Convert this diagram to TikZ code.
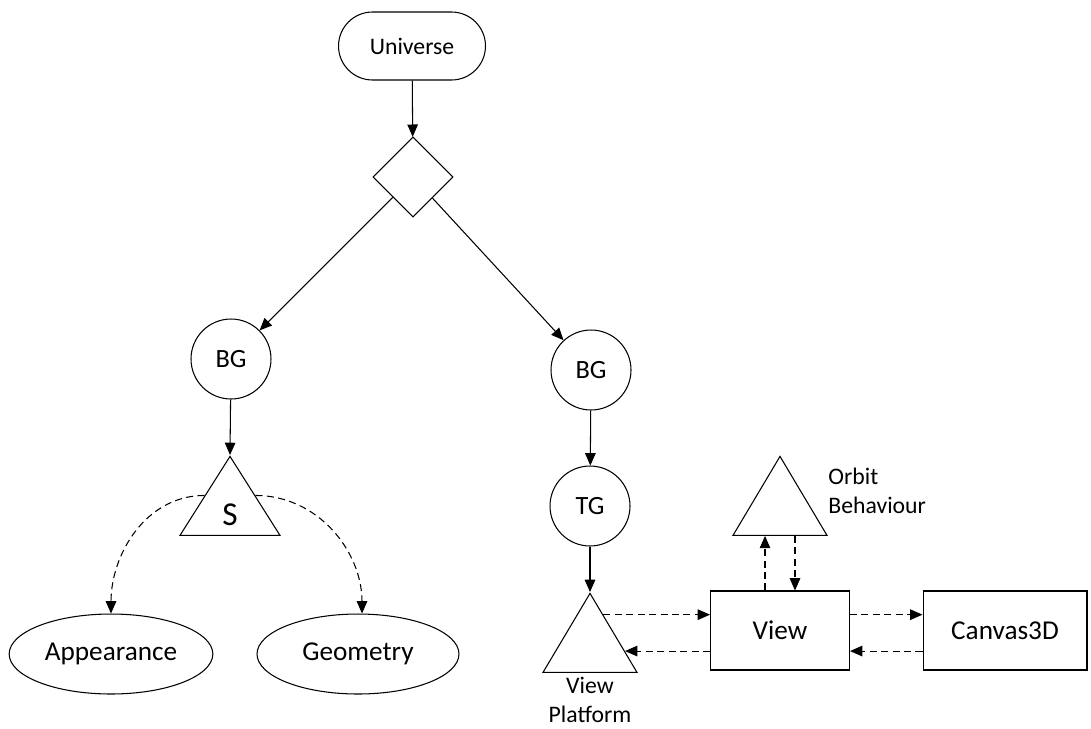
\documentclass[tikz,border=0pt]{standalone}
\usepackage{fontspec}
\setmainfont{Carlito}
\usepackage{tikz}
\usetikzlibrary{arrows.meta}
\usetikzlibrary{shapes.geometric}
\usetikzlibrary{calc}
\usetikzlibrary{positioning}
\tikzset{
  every node/.style = {font=\fontsize{13.5}{16.5}\selectfont},
  big/.style = {font=\fontsize{15.5}{18}\selectfont},
  term/.style = {draw, rectangle, rounded corners=0.68cm, minimum width=2.94cm, minimum height=1.36cm},
  group/.style = {draw, circle, minimum size=1.6cm, inner sep=0pt, font=\fontsize{15}{18}\selectfont},
  switch/.style = {draw, diamond, minimum width=1.6cm, minimum height=1.6cm, inner sep=0pt},
  leaf/.style = {draw, isosceles triangle, isosceles triangle stretches, shape border rotate=90, inner sep=0pt, minimum width=2.0cm, minimum height=1.58cm},
  comp/.style = {draw, ellipse, minimum width=4.04cm, minimum height=1.6cm, big},
  box/.style = {draw, rectangle, minimum height=1.58cm, big},
  link/.style = {->},
  ref/.style = {->, dash pattern=on 4pt off 2.5pt}
}

\begin{document}
\begin{tikzpicture}[x=0.02cm, y=-0.02cm, line width=0.6pt, >={Triangle[length=7pt,width=6pt]}]
\useasboundingbox (0,0) rectangle (1091,728);

\node[term] (uni) at (412,46) {Universe};
\node[switch] (sw) at (413,177) {};
\node[group] (bgl) at (231,359) {BG};
\node[group] (bgr) at (591,370) {BG};
\node[group] (tg) at (590,506) {TG};

\node[leaf, anchor=apex] (s) at (230,455) {};
\node[font=\fontsize{19}{22}\selectfont] (slbl) at (230,515) {S};
\node[comp] (app) at (111,654) {Appearance};
\node[comp] (geo) at (358,654) {Geometry};

\node[leaf, minimum width=1.88cm, anchor=apex] (vp) at (590,592) {};
\node[align=center] (vplbl) at (590,700) {View\\Platform};
\node[box, minimum width=2.78cm] (view) at (780,630.5) {View};
\node[box, minimum width=3.28cm] (canvas) at (1005,630.5) {Canvas3D};
\node[leaf, minimum width=1.88cm, anchor=apex] (orbit) at (780,455) {};
\node[align=left, anchor=west] (oblbl) at (822,491) {Orbit\\Behaviour};

%% scene graph
\draw[link] (uni) -- (sw);
\draw[link] (sw) -- (bgl);
\draw[link] (sw) -- (bgr);
\draw[link] (bgl) -- (s.apex);
\draw[link] (bgr) -- (tg);
\draw[link] (tg) -- (vp.apex);

\draw[ref] (s.left side) to[out=180,in=90] (app.north);
\draw[ref] (s.right side) to[out=0,in=90] ([xshift=0.08cm]geo.north);

%% view side
\draw[ref] ($(vp.apex)!.28!(vp.right corner)$) coordinate (p1) -- (p1 -| view.west);
\draw[ref] ($(vp.apex)!.73!(vp.right corner)$) coordinate (p2) (p2 -| view.west) -- (p2);
\draw[ref] (view.east |- p1) -- (canvas.west |- p1);
\draw[ref] (canvas.west |- p2) -- (view.east |- p2);
\draw[ref] ([xshift=-0.3cm]view.north) -- ([xshift=-0.3cm]view.north |- orbit.lower side);
\draw[ref] ([xshift=0.3cm]view.north |- orbit.lower side) -- ([xshift=0.3cm]view.north);
\end{tikzpicture}
\end{document}
